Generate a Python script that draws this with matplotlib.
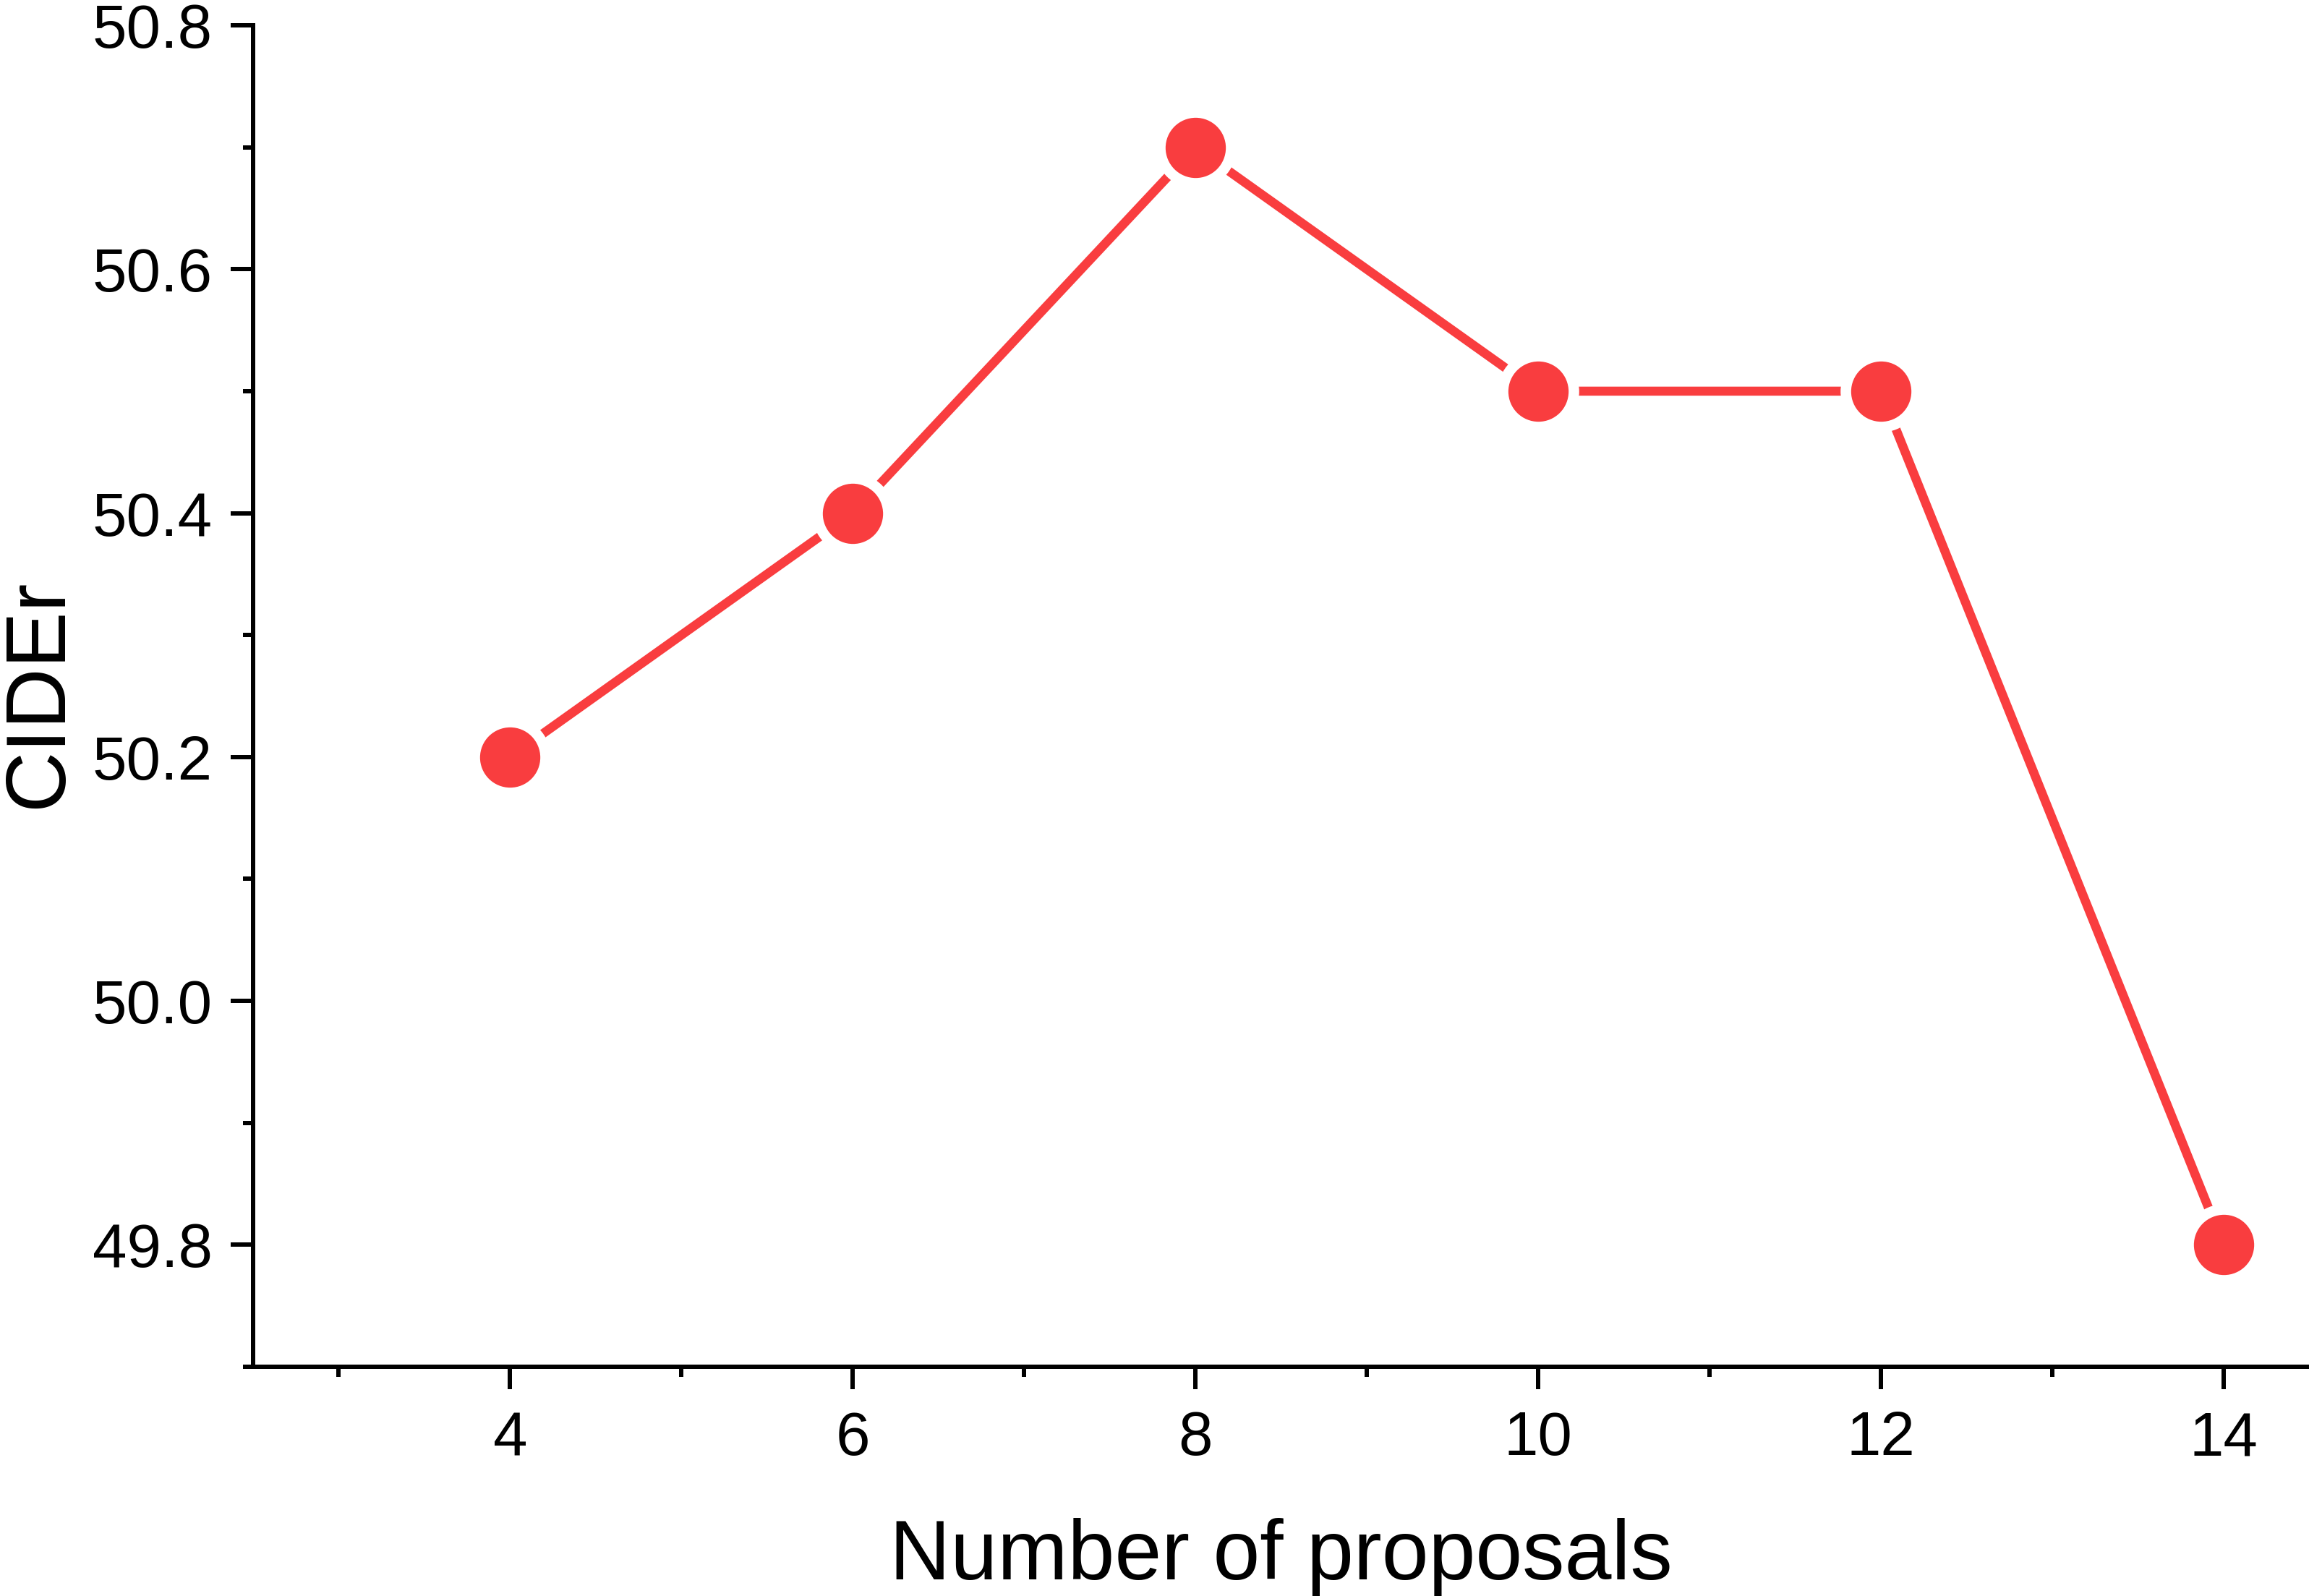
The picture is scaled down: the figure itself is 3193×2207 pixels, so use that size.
import matplotlib
matplotlib.use("Agg")
import matplotlib.pyplot as plt
from matplotlib.ticker import MultipleLocator, FormatStrFormatter

proposals = [4, 6, 8, 10, 12, 14]
cider = [50.2, 50.4, 50.7, 50.5, 50.5, 49.8]
xlabel = "Number of proposals"
ylabel = "CIDEr"

plt.rcParams['font.family'] = ['Liberation Sans', 'DejaVu Sans']
W, H, DPI = 3193, 2207, 300
fig = plt.figure(figsize=(W / DPI, H / DPI), dpi=DPI)
ax = fig.add_axes([350 / W, 1 - 1890 / H, 1 - 350 / W, (1890 - 35) / H])

red = '#F93D3F'
ax.plot(proposals, cider, color=red, lw=3.0, solid_capstyle='round', zorder=2)
ax.plot(proposals, cider, 'o', ms=27, color='white', mec='none', zorder=3)
ax.plot(proposals, cider, 'o', ms=20, color=red, mec='none', zorder=4)

ax.set_xlim(2.5, 14.5)
ax.set_ylim(49.7, 50.8)
ax.xaxis.set_major_locator(MultipleLocator(2))
ax.xaxis.set_minor_locator(MultipleLocator(1))
ax.yaxis.set_major_locator(MultipleLocator(0.2))
ax.yaxis.set_minor_locator(MultipleLocator(0.1))
ax.yaxis.set_major_formatter(FormatStrFormatter('%.1f'))

for s in ['top', 'right']:
    ax.spines[s].set_visible(False)
for s in ['left', 'bottom']:
    ax.spines[s].set_linewidth(1.44)
ax.tick_params(which='major', direction='out', length=7.5, width=1.44, labelsize=20.5, pad=6)
ax.tick_params(which='minor', direction='out', length=3.4, width=1.44)
ax.tick_params(axis='x', which='major', pad=7)

ax.set_xlabel(xlabel, fontsize=28, va='baseline')
ax.xaxis.set_label_coords(0.5, -0.1585)
ax.set_ylabel(ylabel, fontsize=28, va='baseline')
ax.yaxis.set_label_coords(-0.0932, 0.502)

fig.savefig('out.png', dpi=DPI)
